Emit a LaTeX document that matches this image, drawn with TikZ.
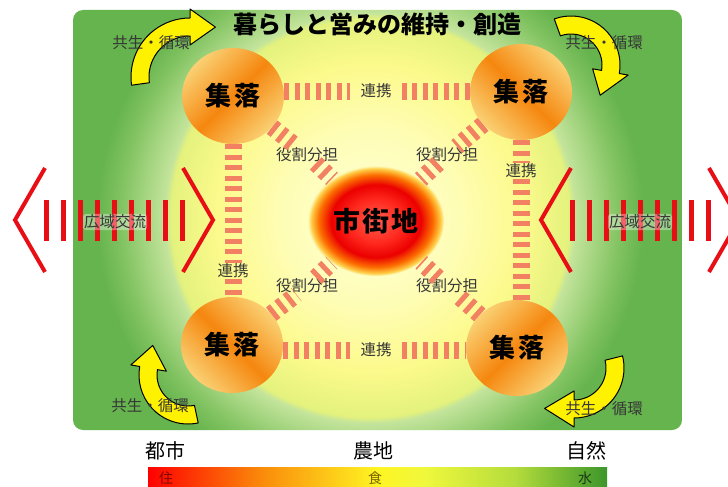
\documentclass[tikz,border=0pt]{standalone}
\usepackage{fontspec}
\newfontfamily\cjk{Noto Sans CJK JP}
\usetikzlibrary{shapes.geometric}
\definecolor{bgA}{RGB}{255,255,215}
\definecolor{bgAB}{RGB}{254,253,180}
\definecolor{bgB}{RGB}{252,250,140}
\definecolor{bgC}{RGB}{228,242,125}
\definecolor{bgD}{RGB}{195,228,155}
\definecolor{bgE}{RGB}{128,194,96}
\definecolor{bgF}{RGB}{102,180,78}
\definecolor{vlight}{RGB}{250,208,115}
\definecolor{vorange}{RGB}{245,135,15}
\definecolor{cA}{RGB}{255,95,80}
\definecolor{cB}{RGB}{255,40,30}
\definecolor{cC}{RGB}{235,0,0}
\definecolor{cD}{RGB}{252,110,0}
\definecolor{cE}{RGB}{255,205,70}
\definecolor{cF}{RGB}{253,250,185}
\definecolor{barc}{RGB}{242,128,98}
\definecolor{xred}{RGB}{232,14,22}
\definecolor{lblc}{RGB}{55,55,55}
\definecolor{sb0}{RGB}{255,0,0}
\definecolor{sb1}{RGB}{250,140,10}
\definecolor{sb2}{RGB}{255,245,35}
\definecolor{sb3}{RGB}{240,248,60}
\definecolor{sb4}{RGB}{180,220,60}
\definecolor{sb5}{RGB}{60,150,42}
\pgfdeclareradialshading{bgshade}{\pgfpoint{0bp}{0bp}}{color(0bp)=(bgA); color(6bp)=(bgAB); color(10bp)=(bgB); color(13.1bp)=(bgC); color(13.5bp)=(bgD); color(16.5bp)=(bgE); color(18bp)=(bgF); color(50bp)=(bgF)}
\pgfdeclareradialshading{city}{\pgfpoint{0bp}{0bp}}{color(0bp)=(cA); color(10bp)=(cB); color(16.5bp)=(cC); color(21bp)=(cD); color(23.8bp)=(cE); color(25bp)=(cF); color(50bp)=(cF)}
\pgfdeclarehorizontalshading{scalebar}{100bp}{color(0bp)=(sb0); color(25bp)=(sb0); color(37.5bp)=(sb1); color(50bp)=(sb2); color(55bp)=(sb3); color(65bp)=(sb4); color(75bp)=(sb5); color(100bp)=(sb5)}
\newcommand\cycarrow[7]{%
\begin{scope}[shift={(#1,#2)}]
\pgfmathsetmacro\cAro{#3+9}\pgfmathsetmacro\cAri{#3-9}%
\pgfmathsetmacro\cAbo{#3+18}\pgfmathsetmacro\cAbi{#3-18}%
\filldraw[cyc] (#4:\cAro) arc[start angle=#4,end angle=#5,radius=\cAro] -- (#5:\cAbo) -- (#6:#7) -- (#5:\cAbi) -- (#5:\cAri) arc[start angle=#5,end angle=#4,radius=\cAri] -- cycle;
\end{scope}}
\begin{document}
\begin{tikzpicture}[x=1pt,y=-1pt,
 village/.style={ellipse, minimum width=102pt, minimum height=96pt, inner sep=0pt, font=\cjk\bfseries\fontsize{26}{26}\selectfont, top color=vlight, bottom color=vlight, middle color=vorange},
 lbl/.style={font=\cjk\fontsize{15.5}{15.5}\selectfont, text=lblc, inner xsep=3pt, inner ysep=1pt},
 bars/.style={draw=barc, line width=17pt, dash pattern=on 5pt off 5.5pt},
 redbar/.style={draw=xred, line width=5pt},
 chev/.style={draw=xred, line width=4pt},
 cyc/.style={fill=yellow, draw=black, line width=1pt, line join=round},
 bottomlbl/.style={font=\cjk\fontsize{20}{20}\selectfont, text=black},
 scalelbl/.style={font=\cjk\fontsize{14}{14}\selectfont}]
\useasboundingbox (0,0) rectangle (728,487);
\fill[white] (0,0) rectangle (728,487);
\begin{scope}
\clip[rounded corners=10pt] (73,10) rectangle (682,430);
\shade[shading=bgshade] (370,218) circle (380);
\end{scope}
% cycle arrows
\cycarrow{190}{77}{50}{-188}{-90}{-63}{56}
\cycarrow{571}{65}{40}{-110}{10}{46}{42}
\cycarrow{574}{368}{41}{-14}{90}{126}{50}
\cycarrow{188}{375}{40}{78}{190}{220}{46}
% title
\node[font=\cjk\bfseries\fontsize{24}{24}\selectfont] (title) at (377,24) {暮らしと営みの維持・創造};
% villages and city
\node[village, shading angle=45] (tl) at (233,96) {集\kern4pt落};
\node[village, shading angle=-45] (tr) at (521,92) {集\kern4pt落};
\node[village, shading angle=-45] (bl) at (232,345) {集\kern4pt落};
\node[village, shading angle=45] (br) at (517,348) {集\kern4pt落};
\node[ellipse, minimum width=136pt, minimum height=110pt, inner sep=0pt, shade, shading=city, font=\cjk\bfseries\fontsize{27}{27}\selectfont] (c) at (376,221) {市\kern2pt街\kern2pt地};
% labels
\node[lbl, inner xsep=10pt] (lt) at (376,91) {連携};
\node[lbl, inner xsep=10pt] (lb) at (376,350) {連携};
\node[lbl] (ll) at (233,271) {連携};
\node[lbl] (lr) at (521,171) {連携};
\node[lbl] (dtl) at (307,155) {役割分担};
\node[lbl] (dtr) at (447,155) {役割分担};
\node[lbl] (dbl) at (307,286) {役割分担};
\node[lbl] (dbr) at (447,286) {役割分担};
% connectors
\draw[bars] (tl.east |- lt) -- (lt.west);
\draw[bars] (lt.east) -- (tr.west |- lt);
\draw[bars] (bl.east |- lb) -- (lb.west);
\draw[bars] (lb.east) -- (br.west |- lb);
\draw[bars] (tl.south -| ll) -- (ll.north);
\draw[bars] (ll.south) -- (bl.north -| ll);
\draw[bars] (tr.south -| lr) -- (lr.north);
\draw[bars] (lr.south) -- (br.north -| lr);
\draw[bars] (tl) -- (dtl);
\draw[bars] (dtl) -- (c);
\draw[bars] (tr) -- (dtr);
\draw[bars] (dtr) -- (c);
\draw[bars] (bl) -- (dbl);
\draw[bars] (dbl) -- (c);
\draw[bars] (br) -- (dbr);
\draw[bars] (dbr) -- (c);
% wide-area exchange
\foreach \x in {46,572} {
 \draw[chev] (\x-1,168) -- (\x-31,220) -- (\x-1,272);
 \foreach \i in {0,...,8} \draw[redbar] (\x+17*\i,200) -- (\x+17*\i,241);
 \draw[chev] (\x+137,168) -- (\x+167,220) -- (\x+137,272);
}
\node[lbl, fill=white, fill opacity=0.35, text opacity=1, rounded corners=3pt, inner xsep=1pt] (xl) at (115,222) {広域交流};
\node[lbl, fill=white, fill opacity=0.35, text opacity=1, rounded corners=3pt, inner xsep=1pt] (xr) at (640,222) {広域交流};
% cycle labels
\node[lbl] (ktl) at (151,43) {共生・循環};
\node[lbl] (ktr) at (604,43) {共生・循環};
\node[lbl] (kbl) at (150,406) {共生・循環};
\node[lbl] (kbr) at (604,409) {共生・循環};
% scale
\node[bottomlbl] (toshi) at (165,451) {都市};
\node[bottomlbl] (nouchi) at (373,451) {農地};
\node[bottomlbl] (shizen) at (586,451) {自然};
\shade[shading=scalebar] (148,467) rectangle (607,488);
\node[scalelbl, text={rgb,255:red,130;green,10;blue,0}] (ju) at (166,478) {住};
\node[scalelbl, text={rgb,255:red,120;green,100;blue,0}] (shoku) at (375,478) {食};
\node[scalelbl, text={rgb,255:red,25;green,60;blue,20}] (mizu) at (585,478) {水};
\end{tikzpicture}
\end{document}
